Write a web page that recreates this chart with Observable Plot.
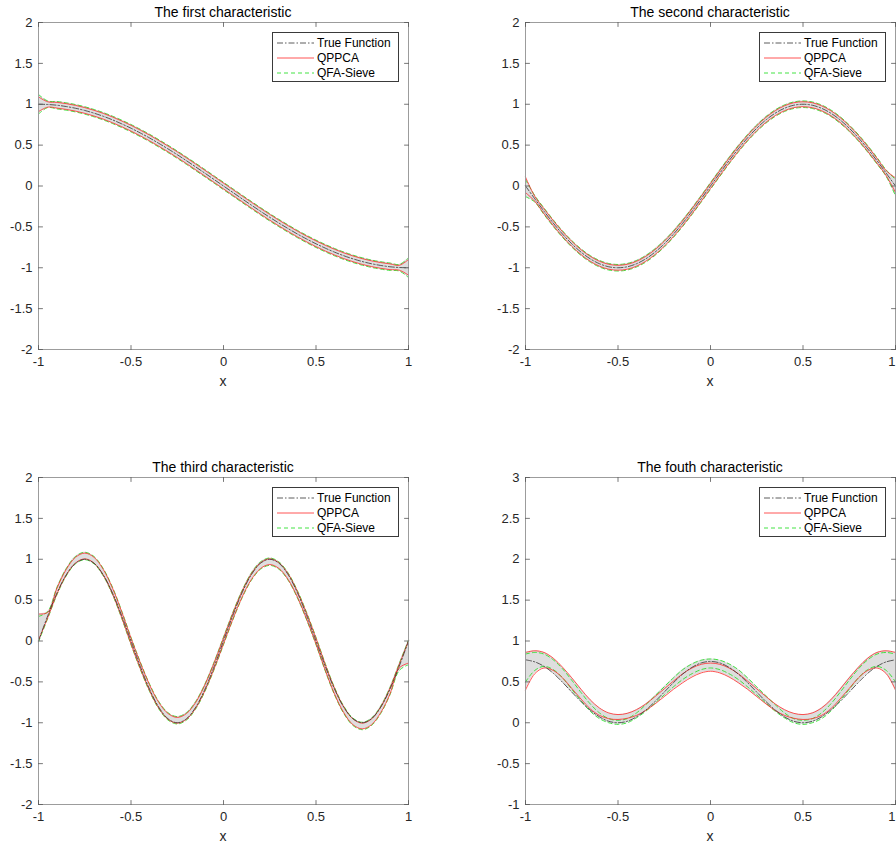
<!DOCTYPE html>
<html><head><meta charset="utf-8">
<script src="https://cdn.jsdelivr.net/npm/d3@7"></script>
<script src="https://cdn.jsdelivr.net/npm/@observablehq/plot@0.6"></script>
<style>
body{margin:0;background:#fff;font-family:"Liberation Sans",Arial,Helvetica,sans-serif;}
#fig{position:relative;width:896px;height:846px;overflow:hidden;background:#fff}
.panel{position:absolute}
.title{position:absolute;font-size:14px;color:#000;white-space:nowrap;transform:translate(-50%,-50%)}
.xlabel{position:absolute;font-size:14px;color:#262626;transform:translate(-50%,-50%)}
.legend{position:absolute;border:1px solid #3a3a3a;background:#fff;font-size:12px;color:#000;box-sizing:border-box}
.legend .row{position:absolute;left:0;height:14px;width:100%}
.legend .row svg{position:absolute;left:4px;top:0}
.legend .row span{position:absolute;left:44px;top:0;line-height:14px;white-space:nowrap}
</style>
</head><body>
<div id="fig"></div>
<script>
// ---------- data ----------
const xs = [-1,-0.95,-0.9,-0.85,-0.8,-0.75,-0.7,-0.65,-0.6,-0.55,-0.5,-0.45,-0.4,-0.35,-0.3,-0.25,-0.2,-0.15,-0.1,-0.05,0,0.05,0.1,0.15,0.2,0.25,0.3,0.35,0.4,0.45,0.5,0.55,0.6,0.65,0.7,0.75,0.8,0.85,0.9,0.95,1];
const xTicks = [-1,-0.5,0,0.5,1];
const yTicksA = [-2,-1.5,-1,-0.5,0,0.5,1,1.5,2];
const yTicksB = [-1,-0.5,0,0.5,1,1.5,2,2.5,3];
const titles = ["The first characteristic","The second characteristic","The third characteristic","The fouth characteristic"];
const seriesNames = ["True Function","QPPCA","QFA-Sieve"];

// Panel 1
const true1 = [1.000,0.997,0.988,0.972,0.951,0.924,0.891,0.853,0.809,0.760,0.707,0.649,0.588,0.522,0.454,0.383,0.309,0.233,0.156,0.078,0.000,-0.078,-0.156,-0.233,-0.309,-0.383,-0.454,-0.522,-0.588,-0.649,-0.707,-0.760,-0.809,-0.853,-0.891,-0.924,-0.951,-0.972,-0.988,-0.997,-1.000];
const qppcaHi1 = [1.09,1.03,1.023,1.007,0.986,0.959,0.926,0.888,0.844,0.795,0.742,0.684,0.623,0.557,0.489,0.418,0.344,0.268,0.191,0.113,0.035,-0.043,-0.121,-0.198,-0.274,-0.348,-0.419,-0.487,-0.553,-0.614,-0.672,-0.725,-0.774,-0.818,-0.856,-0.889,-0.916,-0.937,-0.953,-0.97,-0.90];
const qppcaLo1 = [0.91,0.965,0.953,0.937,0.916,0.889,0.856,0.818,0.774,0.725,0.672,0.614,0.553,0.487,0.419,0.348,0.274,0.198,0.121,0.043,-0.035,-0.113,-0.191,-0.268,-0.344,-0.418,-0.489,-0.557,-0.623,-0.684,-0.742,-0.795,-0.844,-0.888,-0.926,-0.959,-0.986,-1.007,-1.023,-1.03,-1.09];
const sieveHi1 = [1.12,1.04,1.033,1.017,0.996,0.969,0.936,0.898,0.854,0.805,0.752,0.694,0.633,0.567,0.499,0.428,0.354,0.278,0.201,0.123,0.045,-0.033,-0.111,-0.188,-0.264,-0.338,-0.409,-0.477,-0.543,-0.604,-0.662,-0.715,-0.764,-0.808,-0.846,-0.879,-0.906,-0.927,-0.943,-0.96,-0.88];
const sieveLo1 = [0.88,0.96,0.943,0.927,0.906,0.879,0.846,0.808,0.764,0.715,0.662,0.604,0.543,0.477,0.409,0.338,0.264,0.188,0.111,0.033,-0.045,-0.123,-0.201,-0.278,-0.354,-0.428,-0.499,-0.567,-0.633,-0.694,-0.752,-0.805,-0.854,-0.898,-0.936,-0.969,-0.996,-1.017,-1.033,-1.04,-1.12];

// Panel 2
const true2 = [0,-0.156,-0.309,-0.454,-0.588,-0.707,-0.809,-0.891,-0.951,-0.988,-1.000,-0.988,-0.951,-0.891,-0.809,-0.707,-0.588,-0.454,-0.309,-0.156,0,0.156,0.309,0.454,0.588,0.707,0.809,0.891,0.951,0.988,1.000,0.988,0.951,0.891,0.809,0.707,0.588,0.454,0.309,0.156,0];
const qppcaHi2 = [0.11,-0.126,-0.279,-0.424,-0.558,-0.677,-0.779,-0.861,-0.921,-0.958,-0.970,-0.958,-0.921,-0.861,-0.779,-0.677,-0.558,-0.424,-0.279,-0.126,0.030,0.186,0.339,0.484,0.618,0.737,0.839,0.921,0.981,1.018,1.030,1.018,0.981,0.921,0.839,0.737,0.618,0.484,0.339,0.186,0.10];
const qppcaLo2 = [-0.08,-0.186,-0.339,-0.484,-0.618,-0.737,-0.839,-0.921,-0.981,-1.018,-1.030,-1.018,-0.981,-0.921,-0.839,-0.737,-0.618,-0.484,-0.339,-0.186,-0.030,0.126,0.279,0.424,0.558,0.677,0.779,0.861,0.921,0.958,0.970,0.958,0.921,0.861,0.779,0.677,0.558,0.424,0.279,0.126,-0.08];
const sieveHi2 = [0.08,-0.116,-0.269,-0.414,-0.548,-0.667,-0.769,-0.851,-0.911,-0.948,-0.960,-0.948,-0.911,-0.851,-0.769,-0.667,-0.548,-0.414,-0.269,-0.116,0.040,0.196,0.349,0.494,0.628,0.747,0.849,0.931,0.991,1.028,1.040,1.028,0.991,0.931,0.849,0.747,0.628,0.494,0.349,0.196,0.08];
const sieveLo2 = [-0.13,-0.196,-0.349,-0.494,-0.628,-0.747,-0.849,-0.931,-0.991,-1.028,-1.040,-1.028,-0.991,-0.931,-0.849,-0.747,-0.628,-0.494,-0.349,-0.196,-0.040,0.116,0.269,0.414,0.548,0.667,0.769,0.851,0.911,0.948,0.960,0.948,0.911,0.851,0.769,0.667,0.548,0.414,0.269,0.116,-0.12];

// Panel 3
const true3 = [0,0.309,0.588,0.809,0.951,1,0.951,0.809,0.588,0.309,0,-0.309,-0.588,-0.809,-0.951,-1,-0.951,-0.809,-0.588,-0.309,0,0.309,0.588,0.809,0.951,1,0.951,0.809,0.588,0.309,0,-0.309,-0.588,-0.809,-0.951,-1,-0.951,-0.809,-0.588,-0.309,0];
const qppcaHi3 = [0.33,0.35,0.647,0.876,1.024,1.075,1.024,0.876,0.647,0.356,0.035,-0.265,-0.535,-0.750,-0.887,-0.935,-0.887,-0.750,-0.535,-0.265,0.035,0.335,0.605,0.820,0.957,1.005,0.957,0.820,0.605,0.335,0.035,-0.286,-0.577,-0.806,-0.954,-1.005,-0.954,-0.806,-0.577,-0.286,0.00];
const qppcaLo3 = [0.01,0.286,0.577,0.806,0.954,1.005,0.954,0.806,0.577,0.286,-0.035,-0.335,-0.605,-0.820,-0.957,-1.005,-0.957,-0.820,-0.605,-0.335,-0.035,0.265,0.535,0.750,0.887,0.935,0.887,0.750,0.535,0.265,-0.035,-0.356,-0.647,-0.876,-1.024,-1.075,-1.024,-0.876,-0.647,-0.33,-0.27];
const sieveHi3 = [0.30,0.36,0.657,0.886,1.034,1.085,1.034,0.886,0.657,0.366,0.045,-0.255,-0.525,-0.740,-0.877,-0.925,-0.877,-0.740,-0.525,-0.255,0.045,0.345,0.615,0.830,0.967,1.015,0.967,0.830,0.615,0.345,0.045,-0.276,-0.567,-0.796,-0.944,-0.995,-0.944,-0.796,-0.567,-0.276,0.01];
const sieveLo3 = [-0.01,0.276,0.567,0.796,0.944,0.995,0.944,0.796,0.567,0.276,-0.045,-0.345,-0.615,-0.830,-0.967,-1.015,-0.967,-0.830,-0.615,-0.345,-0.045,0.255,0.525,0.740,0.877,0.925,0.877,0.740,0.525,0.255,-0.045,-0.366,-0.657,-0.886,-1.034,-1.085,-1.034,-0.886,-0.657,-0.36,-0.29];

// Panel 4
const true4 = [0.770,0.745,0.690,0.605,0.495,0.375,0.259,0.155,0.072,0.018,0.000,0.018,0.072,0.155,0.259,0.375,0.491,0.596,0.678,0.732,0.750,0.732,0.678,0.596,0.491,0.375,0.259,0.155,0.072,0.018,0.000,0.018,0.072,0.155,0.259,0.375,0.495,0.605,0.690,0.745,0.770];
const qppcaHi4 = [0.86,0.88,0.86,0.79,0.68,0.55,0.41,0.28,0.18,0.12,0.10,0.115,0.16,0.23,0.32,0.415,0.51,0.60,0.67,0.715,0.73,0.715,0.67,0.60,0.51,0.415,0.32,0.23,0.16,0.115,0.10,0.12,0.18,0.28,0.41,0.55,0.68,0.79,0.86,0.88,0.86];
const qppcaLo4 = [0.40,0.60,0.67,0.64,0.55,0.42,0.29,0.17,0.09,0.05,0.04,0.055,0.09,0.15,0.23,0.32,0.41,0.49,0.56,0.61,0.63,0.61,0.56,0.49,0.41,0.32,0.23,0.15,0.09,0.055,0.04,0.05,0.09,0.17,0.29,0.42,0.55,0.64,0.67,0.60,0.40];
const sieveHi4 = [0.84,0.86,0.84,0.77,0.66,0.52,0.37,0.23,0.12,0.05,0.03,0.05,0.12,0.22,0.33,0.44,0.55,0.65,0.72,0.765,0.78,0.765,0.72,0.65,0.55,0.44,0.33,0.22,0.12,0.05,0.03,0.05,0.12,0.23,0.37,0.52,0.66,0.77,0.84,0.86,0.84];
const sieveLo4 = [0.50,0.64,0.69,0.65,0.55,0.41,0.27,0.14,0.05,0.00,-0.02,0.00,0.06,0.14,0.24,0.34,0.44,0.53,0.60,0.65,0.67,0.65,0.60,0.53,0.44,0.34,0.24,0.14,0.06,0.00,-0.02,0.00,0.05,0.14,0.27,0.41,0.55,0.65,0.69,0.64,0.50];

// ---------- drawing ----------
const RED = "#ff2a2a", GREEN = "#2fe02f", BLACK = "#333333", BAND = "#dedede", BOX = "#9c9c9c", TICK = "#555555";
const DASH_TRUE = "6,2,1.5,2", DASH_SIEVE = "4,3";
const FONT = "'Liberation Sans', Arial, Helvetica, sans-serif";
const fmt = d => String(d);
const tickShape = {draw(ctx, l){ ctx.moveTo(0,0); ctx.lineTo(0,-l); }};

const panels = [
  {t:true1, qh:qppcaHi1, ql:qppcaLo1, sh:sieveHi1, sl:sieveLo1, ydom:[-2,2], yt:yTicksA, left:0, top:0, width:448, ml:38, mr:40},
  {t:true2, qh:qppcaHi2, ql:qppcaLo2, sh:sieveHi2, sl:sieveLo2, ydom:[-2,2], yt:yTicksA, left:487, top:0, width:409, ml:38, mr:1},
  {t:true3, qh:qppcaHi3, ql:qppcaLo3, sh:sieveHi3, sl:sieveLo3, ydom:[-2,2], yt:yTicksA, left:0, top:455, width:448, ml:38, mr:40},
  {t:true4, qh:qppcaHi4, ql:qppcaLo4, sh:sieveHi4, sl:sieveLo4, ydom:[-1,3], yt:yTicksB, left:487, top:455, width:409, ml:38, mr:1}
];
const H = 391, MT = 22, MB = 42;
const fig = document.getElementById("fig");

panels.forEach((p, k) => {
  const rows = xs.map((x, i) => ({x, t:p.t[i], qh:p.qh[i], ql:p.ql[i], sh:p.sh[i], sl:p.sl[i],
    lo: Math.min(p.ql[i], p.sl[i], p.t[i]), hi: Math.max(p.qh[i], p.sh[i], p.t[i])}));
  const curve = "catmull-rom";
  const atEdge = p.mr < 5;
  const xLabTicks = atEdge ? xTicks.slice(0, -1) : xTicks;
  const marks = [
    Plot.areaY(rows, {x: "x", y1: "lo", y2: "hi", fill: BAND, curve}),
    Plot.lineY(rows, {x: "x", y: "sl", stroke: GREEN, strokeWidth: 0.9, strokeDasharray: DASH_SIEVE, curve}),
    Plot.lineY(rows, {x: "x", y: "sh", stroke: GREEN, strokeWidth: 0.9, strokeDasharray: DASH_SIEVE, curve}),
    Plot.lineY(rows, {x: "x", y: "ql", stroke: RED, strokeWidth: 0.8, curve}),
    Plot.lineY(rows, {x: "x", y: "qh", stroke: RED, strokeWidth: 0.8, curve}),
    Plot.lineY(rows, {x: "x", y: "t", stroke: BLACK, strokeWidth: 0.8, strokeDasharray: DASH_TRUE, curve}),
    Plot.frame({stroke: BOX, strokeWidth: 1}),
    Plot.vector(xTicks, {x: d => d, frameAnchor: "bottom", anchor: "start", rotate: 0, length: 4, shape: tickShape, stroke: TICK, strokeWidth: 0.8}),
    Plot.vector(xTicks, {x: d => d, frameAnchor: "top", anchor: "start", rotate: 180, length: 4, shape: tickShape, stroke: TICK, strokeWidth: 0.8}),
    Plot.vector(p.yt, {y: d => d, frameAnchor: "left", anchor: "start", rotate: 90, length: 4, shape: tickShape, stroke: TICK, strokeWidth: 0.8}),
    Plot.vector(p.yt, {y: d => d, frameAnchor: "right", anchor: "start", rotate: -90, length: 4, shape: tickShape, stroke: TICK, strokeWidth: 0.8}),
    Plot.axisX(xLabTicks, {tickSize: 0, tickPadding: 7, tickFormat: fmt, fontSize: 13, label: null, fill: "#262626"}),
    Plot.axisY(p.yt, {tickSize: 0, tickPadding: 6, tickFormat: fmt, fontSize: 13, label: null, fill: "#262626"})
  ];
  if (atEdge) {
    marks.push(Plot.axisX(xTicks.slice(-1), {tickSize: 0, tickPadding: 7, tickFormat: fmt, fontSize: 13, label: null, fill: "#262626", textAnchor: "end", dx: 0}));
  }
  const chart = Plot.plot({
    width: p.width, height: H, marginLeft: p.ml, marginRight: p.mr, marginTop: MT, marginBottom: MB,
    x: {domain: [-1, 1]}, y: {domain: p.ydom},
    style: {fontFamily: FONT, fontSize: "13px", color: "#262626", background: "transparent", overflow: "visible"},
    marks
  });
  const wrap = document.createElement("div");
  wrap.className = "panel";
  wrap.style.left = p.left + "px";
  wrap.style.top = p.top + "px";
  wrap.appendChild(chart);
  fig.appendChild(wrap);

  const frameL = p.left + p.ml, frameR = p.left + p.width - p.mr;
  const cx = (frameL + frameR) / 2;
  const title = document.createElement("div");
  title.className = "title";
  title.textContent = titles[k];
  title.style.left = cx + "px";
  title.style.top = (p.top + 12) + "px";
  fig.appendChild(title);

  const xl = document.createElement("div");
  xl.className = "xlabel";
  xl.textContent = "x";
  xl.style.left = cx + "px";
  xl.style.top = (p.top + 381) + "px";
  fig.appendChild(xl);

  // legend
  const lg = document.createElement("div");
  lg.className = "legend";
  lg.style.left = (frameR - 136) + "px";
  lg.style.top = (p.top + 32) + "px";
  lg.style.width = "127px";
  lg.style.height = "50px";
  const styles = [
    {stroke: BLACK, dash: DASH_TRUE},
    {stroke: RED, dash: null},
    {stroke: GREEN, dash: DASH_SIEVE}
  ];
  seriesNames.forEach((name, j) => {
    const row = document.createElement("div");
    row.className = "row";
    row.style.top = (3 + 15 * j) + "px";
    const s = styles[j];
    row.innerHTML = `<svg width="37" height="14"><line x1="0" x2="37" y1="7" y2="7" stroke="${s.stroke}" stroke-width="${j===2?0.9:0.8}" ${s.dash ? `stroke-dasharray="${s.dash}"` : ""}/></svg><span>${name}</span>`;
    lg.appendChild(row);
  });
  fig.appendChild(lg);
});
</script>
</body></html>
